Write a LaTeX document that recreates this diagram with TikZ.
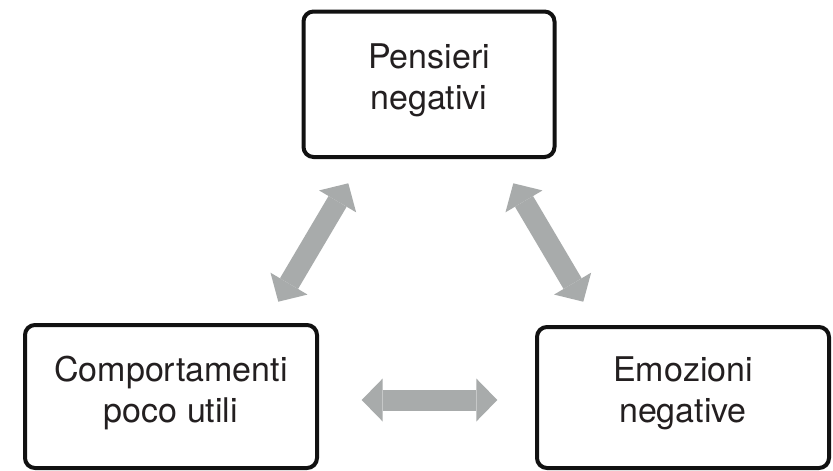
\documentclass[tikz,border=0pt]{standalone}
\usepackage{fontspec}
\setmainfont{TeX Gyre Heros}
\usetikzlibrary{arrows.meta}
\usepackage{xcolor}
\definecolor{boxblack}{HTML}{111111}
\definecolor{textdark}{HTML}{231F20}
\definecolor{arrowgray}{HTML}{A8ABAB}

\begin{document}
\begin{tikzpicture}[x=1pt, y=-1pt,
  cyclebox/.style={draw=boxblack, line width=4pt, rounded corners=10pt,
    text=textdark, align=center, inner sep=0pt, text depth=15pt,
    font=\fontsize{34}{41}\selectfont},
  twoway/.style={draw=arrowgray, line width=21pt,
    {Triangle[length=21pt, width=43pt, line width=0pt]}-{Triangle[length=21pt, width=43pt, line width=0pt]}}]

  % Background canvas
  \fill[white] (0, 0) rectangle (833, 471);
  \useasboundingbox (0, 0) rectangle (833, 471);

  % Boxes of the cycle
  \node[cyclebox, minimum width=251pt, minimum height=145.5pt] (pensieri) at (429, 84.25) {Pensieri\\negativi};
  \node[cyclebox, minimum width=292pt, minimum height=143pt] (comportamenti) at (171, 396.5) {Comportamenti\\poco utili};
  \node[cyclebox, minimum width=292pt, minimum height=141pt] (emozioni) at (683, 397.5) {Emozioni\\negative};

  % Ends of the double arrows
  \coordinate (pc-top) at (348.3, 183.3);
  \coordinate (pc-bot) at (278.3, 301.7);
  \coordinate (pe-top) at (513.3, 183.3);
  \coordinate (pe-bot) at (583.3, 301.7);
  \coordinate (ce-left) at (361.7, 400);
  \coordinate (ce-right) at (497.3, 400);

  % Double arrows
  \draw[twoway] (pc-top) -- (pc-bot);
  \draw[twoway] (pe-top) -- (pe-bot);
  \draw[twoway] (ce-left) -- (ce-right);

\end{tikzpicture}
\end{document}
